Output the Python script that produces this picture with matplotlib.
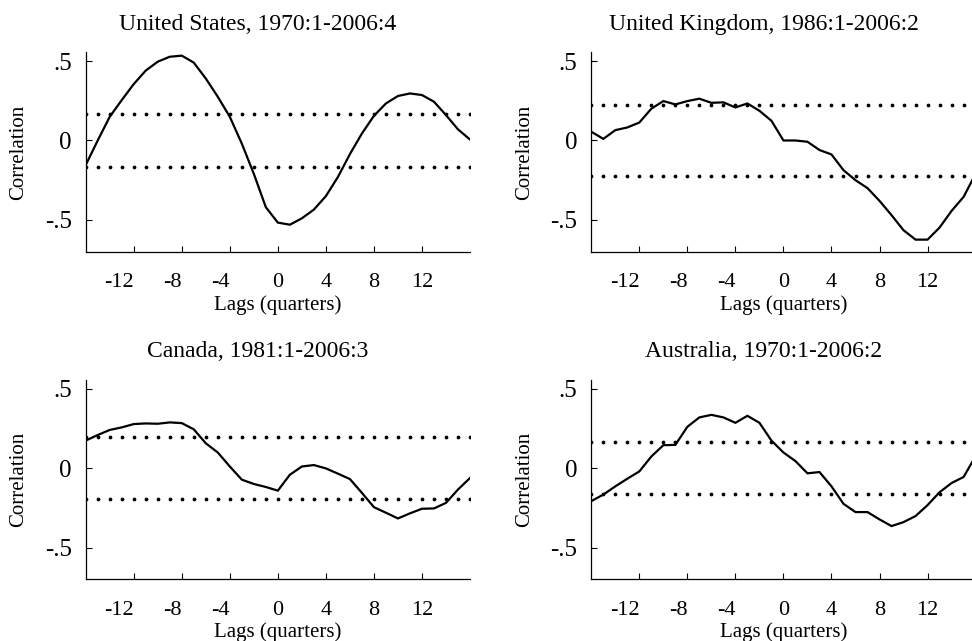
import matplotlib
matplotlib.use("Agg")
import matplotlib.pyplot as plt

# lags -16 .. 16 (quarters)
lags = list(range(-16, 17))

titles = ["United States, 1970:1-2006:4", "United Kingdom, 1986:1-2006:2",
          "Canada, 1981:1-2006:3", "Australia, 1970:1-2006:2"]

corr_us = [-0.155, 0.0, 0.149, 0.254, 0.355, 0.44, 0.496, 0.527, 0.534, 0.49, 0.39,
           0.275, 0.149, -0.02, -0.21, -0.42, -0.517, -0.53, -0.49, -0.435, -0.35,
           -0.23, -0.086, 0.044, 0.155, 0.233, 0.28, 0.296, 0.286, 0.244, 0.16, 0.07, 0.006]
corr_uk = [0.055, 0.01, 0.065, 0.082, 0.113, 0.2, 0.248, 0.227, 0.248, 0.263, 0.237,
           0.24, 0.208, 0.233, 0.187, 0.124, 0.0, 0.0, -0.008, -0.06, -0.088,
           -0.187, -0.25, -0.30, -0.38, -0.47, -0.565, -0.624, -0.624, -0.548, -0.443, -0.355, -0.21]
corr_ca = [0.173, 0.208, 0.24, 0.256, 0.277, 0.281, 0.279, 0.2875, 0.283, 0.244, 0.156,
           0.098, 0.01, -0.073, -0.1, -0.119, -0.142, -0.042, 0.01, 0.019, -0.002,
           -0.035, -0.069, -0.156, -0.246, -0.281, -0.317, -0.285, -0.256, -0.254, -0.219, -0.135, -0.0625]
corr_au = [-0.208, -0.167, -0.115, -0.067, -0.021, 0.073, 0.144, 0.146, 0.26, 0.319, 0.335,
           0.319, 0.285, 0.329, 0.285, 0.173, 0.098, 0.044, -0.033, -0.025, -0.115,
           -0.225, -0.277, -0.277, -0.323, -0.365, -0.34, -0.302, -0.233, -0.152, -0.094, -0.056, 0.075]

# approx. 2 standard error bands
bands = [0.166, 0.221, 0.197, 0.1655]

series = [corr_us, corr_uk, corr_ca, corr_au]

xticks = [-12, -8, -4, 0, 4, 8, 12]
yticks = [-0.5, 0, 0.5]
yticklabels = ["-.5", "0", ".5"]

plt.rcParams['font.family'] = ['Liberation Serif', 'DejaVu Serif']

fig = plt.figure(figsize=(9.72, 6.41), dpi=100)

W, H = 972.0, 641.0
ax_w, ax_h = 384.3, 199.4
lefts = [85.7, 591.3]
bottoms = [251.7, 579.3]  # pixel from top

for i, (corr, band, title) in enumerate(zip(series, bands, titles)):
    row, col = divmod(i, 2)
    l = lefts[col] / W
    b = (H - bottoms[row]) / H
    ax = fig.add_axes([l, b, ax_w / W, ax_h / H])

    ax.plot(lags, corr, color='black', lw=1.6, solid_joinstyle='miter')
    ax.plot(lags, [band] * len(lags), ls='none', marker='o', ms=1.7, color='black')
    ax.plot(lags, [-band] * len(lags), ls='none', marker='o', ms=1.7, color='black')

    ax.set_xlim(-16, 16)
    ax.set_ylim(-0.7, 0.555)
    ax.set_xticks(xticks)
    ax.set_xticklabels([str(t) for t in xticks])
    # stata-style: negative labels sit left of the tick
    for lab in ax.get_xticklabels():
        if lab.get_text().startswith('-'):
            lab.set_ha('right')
    ax.set_yticks(yticks)
    ax.set_yticklabels(yticklabels)
    ax.tick_params(direction='in', length=4, width=0.8)
    ax.tick_params(axis='y', pad=10, labelsize=18)
    ax.tick_params(axis='x', pad=15.5, labelsize=16)

    for s in ['top', 'right']:
        ax.spines[s].set_visible(False)
    for s in ['left', 'bottom']:
        ax.spines[s].set_linewidth(0.9)

    ax.set_ylabel("Correlation", fontsize=15)
    ax.yaxis.set_label_coords(-66.7 / ax_w, 0.5)
    ax.yaxis.label.set_va('center')
    ax.set_xlabel("Lags (quarters)", fontsize=15)
    ax.xaxis.set_label_coords(0.5, -53.0 / ax_h)
    ax.xaxis.label.set_va('center')

    ax.text(0.448, 1.14, title, transform=ax.transAxes, ha='center', va='center', fontsize=17)

fig.savefig("out.png", dpi=100)
